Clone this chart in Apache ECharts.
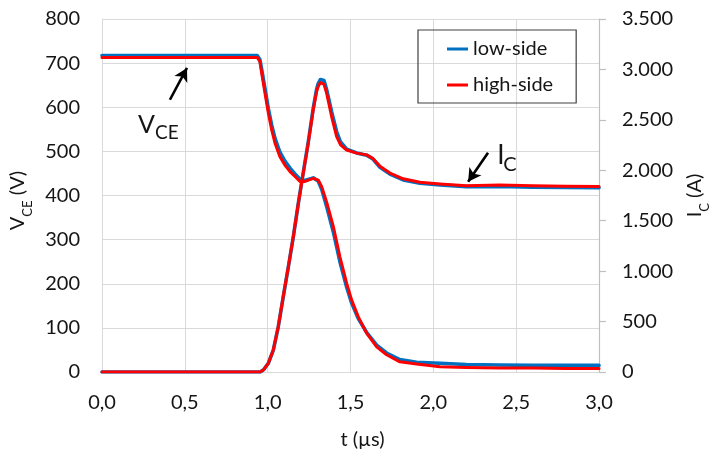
<!DOCTYPE html>
<html>
<head>
<meta charset="utf-8">
<script src="https://cdn.jsdelivr.net/npm/echarts@6/dist/echarts.min.js"></script>
<style>html,body{margin:0;padding:0;background:#fff;}#c{width:719px;height:463px;}</style>
</head>
<body>
<div id="c"></div>
<script>
// ---- data ----
// V_CE traces (V), left axis
var tV    = [0, 0.5, 0.937, 0.953, 0.964, 0.984, 1.004, 1.024, 1.044, 1.074, 1.104, 1.135, 1.165, 1.195, 1.225, 1.275, 1.305, 1.326, 1.356, 1.396, 1.436, 1.477, 1.507, 1.547, 1.597, 1.658, 1.718, 1.798, 1.899, 2.04, 2.2, 2.4, 2.6, 2.8, 3.0];
var vHigh = [713, 713, 713, 704, 677, 632, 587, 549, 519, 488, 469, 454, 443, 432, 432, 439, 435, 420, 385, 330, 261, 201, 163, 125, 88, 57, 39, 23, 18, 12, 10, 9, 9, 8, 8];
var vLow  = [717, 717, 717, 708, 686, 642, 597, 560, 530, 498, 478, 462, 449, 437, 434, 440, 433, 414, 375, 318, 250, 192, 156, 121, 90, 61, 43, 28, 22, 20, 17, 16, 15, 15, 15];
// I_C traces (A), right axis
var tI    = [0, 0.5, 0.955, 0.975, 1.004, 1.034, 1.064, 1.094, 1.125, 1.155, 1.185, 1.205, 1.245, 1.275, 1.295, 1.305, 1.318, 1.328, 1.34, 1.356, 1.386, 1.416, 1.44, 1.477, 1.537, 1.597, 1.635, 1.678, 1.738, 1.818, 1.919, 2.04, 2.2, 2.4, 2.6, 2.8, 3.0];
var iHigh = [0, 0, 0, 22, 88, 219, 451, 748, 1046, 1343, 1671, 1873, 2271, 2599, 2778, 2831, 2870, 2879, 2853, 2765, 2533, 2336, 2253, 2201, 2170, 2153, 2118, 2039, 1973, 1916, 1881, 1864, 1846, 1855, 1846, 1842, 1838];
var iLow  = [0, 0, 0, 22, 86, 216, 448, 745, 1044, 1342, 1672, 1878, 2280, 2615, 2800, 2860, 2900, 2912, 2890, 2800, 2581, 2384, 2280, 2210, 2172, 2150, 2112, 2030, 1962, 1905, 1872, 1855, 1838, 1840, 1832, 1830, 1828];

function pairs(t, v) { return t.map(function (x, i) { return [x, v[i]]; }); }
function fmtX(v) { return v.toFixed(1).replace('.', ','); }
function fmtA(v) { return v >= 1000 ? Math.floor(v / 1000) + '.' + String(v % 1000).padStart(3, '0') : String(v); }

var FONT = 'Lato';
var TXT = '#151515';
var BLUE = '#0070C0', RED = '#FF0000';

var chart = echarts.init(document.getElementById('c'), null, {renderer: 'canvas'});
var nameRich = {
  v: {fontSize: 20, lineHeight: 32, fontFamily: FONT, color: TXT},
  s: {fontSize: 13, lineHeight: 15, verticalAlign: 'bottom', fontFamily: FONT, color: TXT}
};
function lineSeries(name, axis, t, v, color, width, z) {
  return {name: name, type: 'line', yAxisIndex: axis, data: pairs(t, v), showSymbol: false, symbol: 'none',
          lineStyle: {color: color, width: width, join: 'round', cap: 'round'}, itemStyle: {color: color}, z: z};
}
var sVHigh = lineSeries('high-side', 0, tV, vHigh, RED, 3, 3);
sVHigh.markLine = {
  silent: true, symbol: ['none', 'arrow'], symbolSize: [11, 13],
  lineStyle: {color: '#000', width: 2.6, type: 'solid'},
  label: {show: false}, emphasis: {disabled: true},
  data: [
    [{coord: [0.41, 617]}, {coord: [0.513, 689]}],
    [{coord: [2.33, 497]}, {coord: [2.21, 431]}]
  ]
};
var option = {
  animation: false,
  backgroundColor: '#fff',
  textStyle: {fontFamily: FONT},
  grid: {left: 102, right: 120, top: 19, bottom: 91, containLabel: false},
  legend: {
    data: ['low-side', 'high-side'],
    orient: 'vertical',
    left: 418, top: 30,
    padding: [8, 23, 7, 29],
    itemGap: 14,
    itemWidth: 21, itemHeight: 3,
    icon: 'rect',
    borderColor: '#404040', borderWidth: 1.2,
    textStyle: {fontFamily: FONT, fontSize: 20, color: TXT, lineHeight: 22}
  },
  xAxis: {
    type: 'value', min: 0, max: 3, interval: 0.5,
    name: 't (µs)', nameLocation: 'middle', nameGap: 58,
    nameTextStyle: {fontFamily: FONT, fontSize: 20, color: TXT, padding: [0, 0, 0, 24]},
    axisLine: {show: true, lineStyle: {color: '#d9d9d9', width: 1}},
    axisTick: {show: false},
    axisLabel: {formatter: fmtX, fontSize: 20, color: TXT, margin: 21, fontFamily: FONT},
    splitLine: {show: true, lineStyle: {color: '#d9d9d9', width: 1}}
  },
  yAxis: [{
    type: 'value', min: 0, max: 800, interval: 100,
    name: '{v|V}{s|CE}{v| (V)}', nameLocation: 'middle', nameGap: 68,
    nameTextStyle: {fontFamily: FONT, color: TXT, rich: nameRich, padding: [0, 10, 0, 0]},
    axisLine: {show: true, lineStyle: {color: '#d9d9d9', width: 1}},
    axisTick: {show: false},
    axisLabel: {fontSize: 20, color: TXT, margin: 22, fontFamily: FONT},
    splitLine: {show: true, lineStyle: {color: '#d9d9d9', width: 1}}
  }, {
    type: 'value', min: 0, max: 3500, interval: 500, position: 'right',
    name: '{v|I}{s|C}{v| (A)}', nameLocation: 'middle', nameGap: 80,
    nameTextStyle: {fontFamily: FONT, color: TXT, rich: nameRich},
    axisLine: {show: true, lineStyle: {color: '#bfbfbf', width: 1.2}},
    axisTick: {show: true, inside: false, length: 7, lineStyle: {color: '#bfbfbf', width: 1.2}},
    axisLabel: {formatter: fmtA, fontSize: 20, color: TXT, margin: 23, fontFamily: FONT},
    splitLine: {show: false}
  }],
  series: [
    lineSeries('low-side', 0, tV, vLow, BLUE, 3.6, 2),
    lineSeries('low-side', 1, tI, iLow, BLUE, 3.6, 2),
    sVHigh,
    lineSeries('high-side', 1, tI, iHigh, RED, 3, 3)
  ]
};
chart.setOption(option);

function px(t, v) { return chart.convertToPixel({xAxisIndex: 0, yAxisIndex: 0}, [t, v]); }
var pV = px(0.217, 584), pI = px(2.386, 510);
chart.setOption({
  graphic: [
    {type: 'text', left: pV[0], top: pV[1] - 2, style: {text: 'V', font: '25px ' + FONT, fill: TXT}},
    {type: 'text', left: pV[0] + 17, top: pV[1] + 9, style: {text: 'CE', font: '19px ' + FONT, fill: TXT}},
    {type: 'text', left: pI[0], top: pI[1] - 4, style: {text: 'I', font: '26px ' + FONT, fill: TXT}},
    {type: 'text', left: pI[0] + 6, top: pI[1] + 8, style: {text: 'C', font: '20px ' + FONT, fill: TXT}}
  ]
});
</script>
</body>
</html>
